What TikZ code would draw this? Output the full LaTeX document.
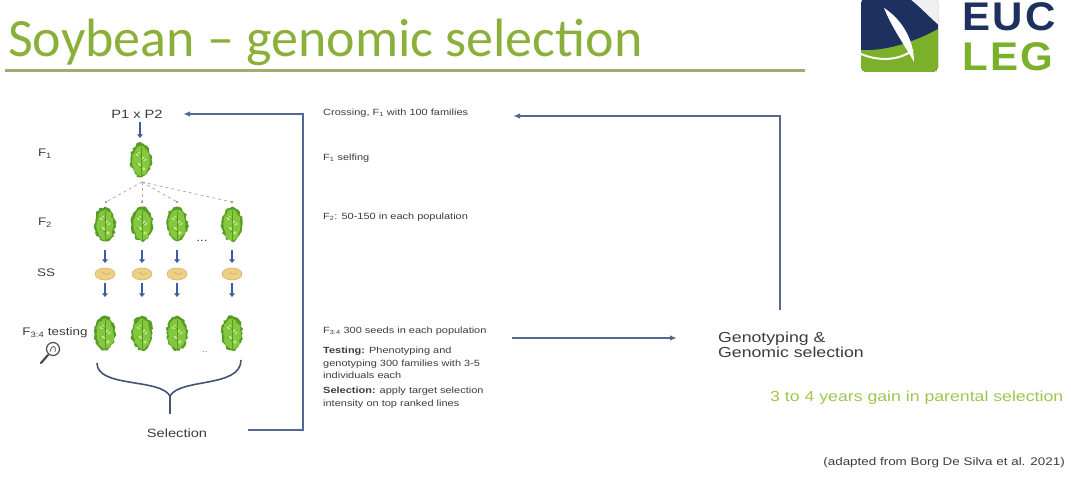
\documentclass[tikz,border=0pt]{standalone}
\usepackage{fontspec}
\setmainfont{Liberation Sans}[FakeStretch=1.22]
\newfontfamily\titlefont{Carlito}
\newfontfamily\logofont{Liberation Sans}[FakeStretch=1.05,LetterSpace=6]
\usetikzlibrary{arrows.meta,decorations.pathmorphing}

\definecolor{titlegreen}{RGB}{138,176,58}
\definecolor{rulegreen}{RGB}{160,172,118}
\definecolor{logonavy}{RGB}{30,48,96}
\definecolor{logogreen}{RGB}{122,176,42}
\definecolor{connblue}{RGB}{84,104,144}
\definecolor{stepblue}{RGB}{62,92,160}
\definecolor{leafdark}{RGB}{88,156,40}
\definecolor{leafmid}{RGB}{132,200,62}
\definecolor{leaflight}{RGB}{190,230,130}
\definecolor{seedfill}{RGB}{236,208,134}
\definecolor{seededge}{RGB}{206,172,96}
\definecolor{gaingreen}{RGB}{160,196,80}
\definecolor{textgray}{RGB}{60,60,60}

\tikzset{
  conn/.style={draw=connblue, line width=1.6pt},
  tip/.style={-{Latex[length=7pt,width=5.5pt]}},
  stepdown/.style={draw=stepblue, line width=2.4pt, -{Triangle[length=3.5pt,width=5.5pt]}},
  famline/.style={draw=gray!70, dashed, line width=0.7pt},
  lbl/.style={inner sep=0pt, font=\fontsize{11}{13}\selectfont, text=textgray},
  note/.style={inner sep=0pt, anchor=west, align=left, font=\fontsize{9}{12.5}\selectfont, text=textgray},
  plant/.pic={
    \fill[leafdark, decorate, decoration={random steps,segment length=2.4pt,amplitude=1.3pt}]
      (0,0) ellipse (10.5pt and 17pt);
    \fill[leafmid, decorate, decoration={random steps,segment length=2.2pt,amplitude=1pt}]
      (0,1) ellipse (8.5pt and 14.5pt);
    \fill[leaflight] (-3,-6) circle (2.2pt) (3,-1) circle (2.4pt) (-2,5) circle (2pt) (3,9) circle (1.8pt);
    \draw[leafdark, line width=0.9pt] (0,-13) -- (0,17);
    \draw[leafdark, line width=0.6pt] (0,-4) -- (-5,-8) (0,2) -- (5,-3) (0,8) -- (-5,4);
  },
  seed/.pic={
    \fill[seedfill, draw=seededge, line width=0.5pt] (0,0) ellipse (10pt and 6pt);
    \draw[seededge, line width=0.6pt] (-3,-2) .. controls (0,1) and (3,1) .. (5,-1);
  }
}

\begin{document}
\begin{tikzpicture}[x=1pt,y=-1pt]
\useasboundingbox (0,0) rectangle (1071,486);

% heading and rule
\node[anchor=base west, inner sep=0pt, text=titlegreen, font=\titlefont\fontsize{54}{60}\selectfont]
  (title) at (8,57) {Soybean \textendash{} genomic selection};
\draw[rulegreen, line width=3pt] (5,71) -- (805,71);

% EUCLEG logo
\begin{scope}
  \clip[rounded corners=5pt] (861,-2) rectangle (938,72);
  \fill[logonavy] (858,-4) rectangle (940,75);
  \fill[white!88!gray] (906,-4) .. controls (920,6) and (930,18) .. (940,26) -- (940,-4) -- cycle;
  \fill[logogreen] (858,50) .. controls (885,52) and (915,42) .. (940,28) -- (940,75) -- (858,75) -- cycle;
  \fill[white] (884,8) .. controls (900,18) and (914,38) .. (914,62)
               .. controls (904,44) and (892,28) .. (884,8) -- cycle;
  \draw[white, line width=2pt] (861,54) .. controls (880,62) and (900,60) .. (913,50);
\end{scope}
\node[anchor=base west, inner sep=0pt, text=logonavy, font=\logofont\bfseries\fontsize{40}{44}\selectfont]
  (euc) at (962,31) {EUC};
\node[anchor=base west, inner sep=0pt, text=logogreen, font=\logofont\bfseries\fontsize{40}{44}\selectfont]
  (leg) at (962,71) {LEG};

% generation labels
\node[lbl, font=\fontsize{12}{14}\selectfont] (p1p2) at (137,114) {P1 x P2};
\node[lbl] (lf1) at (45,154) {F\textsubscript{1}};
\node[lbl] (lf2) at (45,223) {F\textsubscript{2}};
\node[lbl] (lss) at (46,273) {SS};
\node[lbl] (lf34) at (55,333) {F\textsubscript{3:4} testing};

% magnifier
\draw[gray!60!black, line width=1.2pt] (53,349) circle (6.5pt);
\draw[gray!60!black, line width=2.2pt, line cap=round] (48,355) -- (41,363);
\draw[gray!60!black, line width=0.7pt] (50,352) .. controls (51,344) and (57,345) .. (55,352);

% F1 plant
\pic (f1) at (141,160) {plant};
\draw[stepdown] (140,122) -- (140,138);

% family lines to F2
\coordinate (split) at (142,182);
\foreach \x in {106,142,177,232}{
  \draw[famline] (split) -- (\x,202);
  \fill[gray!80] (\x,202) circle (1.3pt);
}

% F2, seeds, F3:4 columns
\foreach \x in {105,142,177,232}{
  \pic at (\x,224) {plant};
  \draw[stepdown] (\x,250) -- (\x,263);
  \pic at (\x,274) {seed};
  \draw[stepdown] (\x,283) -- (\x,297);
  \pic at (\x,333) {plant};
}
\node[lbl] (dots2) at (202,241) {...};
\node[lbl, font=\fontsize{7}{8}\selectfont] (dots3) at (205,352) {..};

% brace gathering the tested lines
\draw[connblue!80!black, line width=1.6pt]
  (97,363) .. controls (97,388) and (160,378) .. (170,396)
  .. controls (180,378) and (241,388) .. (241,360);
\draw[connblue!80!black, line width=1.6pt] (170,396) -- (170,414);
\node[lbl, font=\fontsize{12}{14}\selectfont] (sel) at (177,433) {Selection};

% loop back to the parents
\coordinate (selout) at (248,430);
\coordinate (loopx) at (303,270);
\coordinate (p1in) at (183,114);
\draw[conn, tip] (selout) -| (loopx) |- (p1in);

% step descriptions
\node[note] (cross) at (323,113) {Crossing, F\textsubscript{1} with 100 families};
\node[note] (selfing) at (323,158) {F\textsubscript{1} selfing};
\node[note] (f2note) at (323,217) {F\textsubscript{2}: 50-150 in each population};
\node[note] (f34note) at (323,331) {F\textsubscript{3:4} 300 seeds in each population};
\node[note, anchor=north west] (testnote) at (323,347)
  {\textbf{Testing:} Phenotyping and\\genotyping 300 families with 3-5\\individuals each};
\node[note, anchor=north west] (selnote) at (323,387)
  {\textbf{Selection:} apply target selection\\intensity on top ranked lines};

% genomic selection loop
\node[inner sep=0pt, anchor=west, align=left, text=textgray, font=\fontsize{14.5}{15.5}\selectfont]
  (geno) at (718,345) {Genotyping \&\\Genomic selection};
\coordinate (testout) at (512,338);
\coordinate (genin) at (677,338);
\draw[conn, tip] (testout) -- (genin);
\coordinate (genup) at (780,310);
\coordinate (crossin) at (513,116);
\draw[conn, tip] (genup) |- (crossin);

% outcome and source
\node[inner sep=0pt, anchor=west, text=gaingreen, font=\fontsize{14.5}{16}\selectfont]
  (gain) at (770,398) {3 to 4 years gain in parental selection};
\node[inner sep=0pt, anchor=east, text=textgray, font=\fontsize{11}{13}\selectfont]
  (src) at (1065,463) {(adapted from Borg De Silva et al. 2021)};
\end{tikzpicture}
\end{document}
